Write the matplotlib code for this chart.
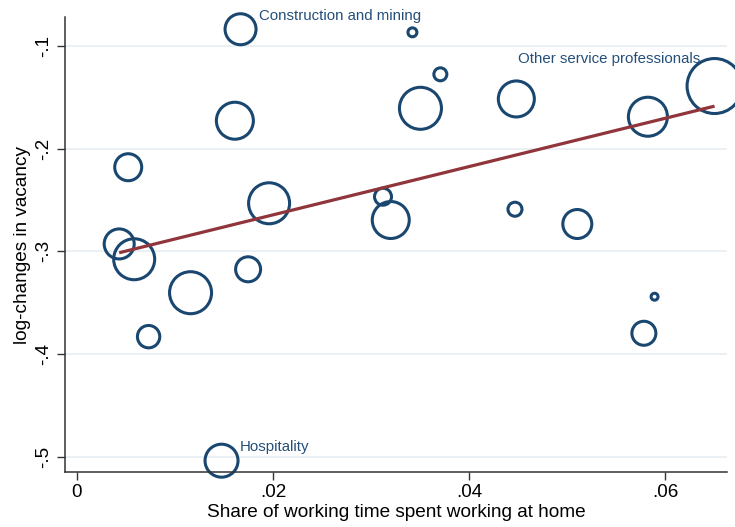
import matplotlib
matplotlib.use("Agg")
import matplotlib.pyplot as plt
import numpy as np

plt.rcParams['font.family'] = ['Liberation Sans', 'DejaVu Sans']

# Occupation-level data: share of working time at home vs. log-change in vacancies
home_share = [0.01669, 0.03422, 0.03707, 0.06504, 0.05824, 0.04482, 0.03504,
              0.01611, 0.00523, 0.01960, 0.03122, 0.03201, 0.04468, 0.05104,
              0.00431, 0.00584, 0.01746, 0.01159, 0.00731, 0.05892, 0.05783,
              0.01475]
vacancy_change = [-0.0837, -0.0867, -0.1276, -0.1390, -0.1689, -0.1516, -0.1607,
                  -0.1728, -0.2181, -0.2532, -0.2468, -0.2695, -0.2590, -0.2734,
                  -0.2928, -0.3077, -0.3175, -0.3403, -0.3831, -0.3442, -0.3798,
                  -0.5039]
# Employment weights (bubble area)
weights = [2.40, 0.20, 0.42, 7.56, 3.80, 3.24, 4.41, 3.42, 1.82, 4.20, 0.72,
           3.42, 0.49, 2.10, 2.25, 4.20, 1.56, 4.41, 1.25, 0.12, 1.44, 2.72]
labels = {0: "Construction and mining",
          3: "Other service professionals",
          21: "Hospitality"}

# Linear fit: log-change = intercept + slope * share
fit_intercept = -0.3115
fit_slope = 2.351

x_ticks = [0, 0.02, 0.04, 0.06]
x_ticklabels = ["0", ".02", ".04", ".06"]
y_ticks = [-0.5, -0.4, -0.3, -0.2, -0.1]
y_ticklabels = ["-.5", "-.4", "-.3", "-.2", "-.1"]

navy = "#1a476f"
label_navy = "#244f7a"
maroon = "#90353b"

fig = plt.figure(figsize=(7.35, 5.27), dpi=100)
ax = fig.add_axes([0.0884, 0.1044, 0.9006, 0.8633])

ax.set_xlim(-0.00122, 0.0663)
ax.set_ylim(-0.5149, -0.0718)

for y in y_ticks:
    ax.axhline(y, color="#e6eef2", lw=1.2, zorder=0)

x = np.array(home_share)
y = np.array(vacancy_change)
w = np.array(weights)
ax.scatter(x, y, s=w * 207.4, facecolors="none", edgecolors=navy,
           linewidths=2.2, zorder=2, clip_on=False)

fx = np.array([x.min(), x.max()])
ax.plot(fx, fit_intercept + fit_slope * fx, color=maroon, lw=2.3,
        solid_capstyle="butt", zorder=3)

offsets = {0: ((13.0, 7.0), "left"),
           3: ((-10.3, 16.3), "right"),
           21: ((13.2, 7.2), "left")}
for i, text in labels.items():
    off, ha = offsets[i]
    ax.annotate(text, (x[i], y[i]), xytext=off, textcoords="offset points",
                ha=ha, va="baseline", fontsize=10.8, color=label_navy, zorder=4)

ax.set_xticks(x_ticks)
ax.set_xticklabels(x_ticklabels)
ax.set_yticks(y_ticks)
ax.set_yticklabels(y_ticklabels, rotation=90, va="center")
ax.tick_params(axis="both", labelsize=13.6, color="#333333", width=1.0,
               length=5.5, direction="out")
ax.tick_params(axis="x", pad=3.5)
ax.tick_params(axis="y", pad=4.0)

for side in ("top", "right"):
    ax.spines[side].set_visible(False)
for side in ("left", "bottom"):
    ax.spines[side].set_color("#333333")
    ax.spines[side].set_linewidth(1.1)

ax.set_xlabel("Share of working time spent working at home", fontsize=13.7,
              labelpad=1.5)
ax.set_ylabel("log-changes in vacancy", fontsize=13.7, labelpad=3)

fig.savefig("out.png", dpi=100)
